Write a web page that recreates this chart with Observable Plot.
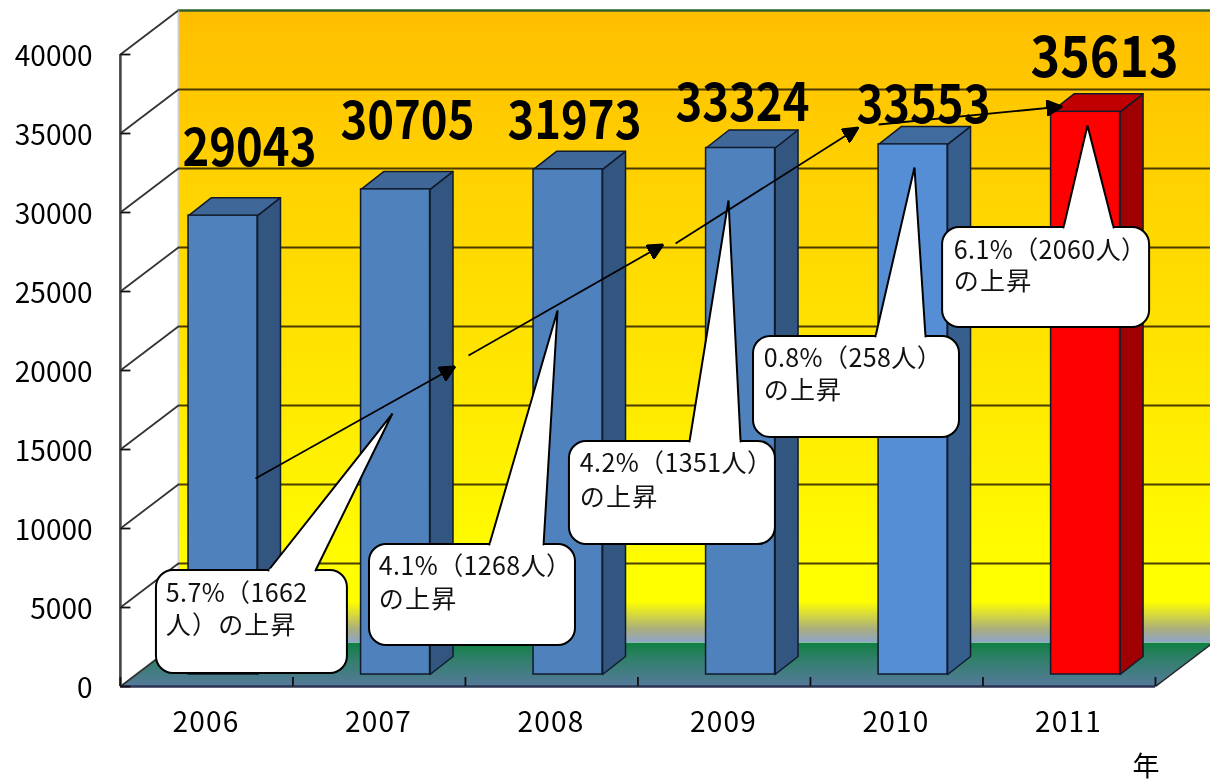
<!DOCTYPE html>
<html lang="ja">
<head>
<meta charset="utf-8">
<script src="https://cdn.jsdelivr.net/npm/d3@7"></script>
<script src="https://cdn.jsdelivr.net/npm/@observablehq/plot@0.6"></script>
<style>
html,body{margin:0;padding:0;background:#fff;overflow:hidden}
svg{display:block;filter:blur(0.45px)}
</style>
</head>
<body>
<div id="chart"></div>
<script>
// Chart values
const years = [2006, 2007, 2008, 2009, 2010, 2011];
const values = [29043, 30705, 31973, 33324, 33553, 35613];
const yTicks = [0, 5000, 10000, 15000, 20000, 25000, 30000, 35000, 40000];
const frontColors = ["#4f81bd", "#4f81bd", "#4f81bd", "#4f81bd", "#558ed5", "#ff0000"];
const sideColors = ["#335680", "#335680", "#335680", "#335680", "#375f8e", "#a00000"];
const topColors = ["#3f6797", "#3f6797", "#3f6797", "#3f6797", "#3f6b9e", "#c00000"];

// Annotation anchors, in chart units (year, people)
const labelX = [2006.252, 2007.168, 2008.136, 2009.11, 2010.159, 2011.209];
const labelY = [34114, 35823, 35823, 36962, 36835, 39873];
const arrowFromX = [2006.287, 2007.522, 2008.722, 2009.899];
const arrowFromY = [13165, 20949, 28038, 35570];
const arrowToX = [2007.446, 2008.652, 2009.783, 2010.965];
const arrowToY = [20253, 27975, 35380, 36709];

const boxLeft = [2005.713, 2006.948, 2008.107, 2009.174, 2010.27];
const boxRight = [2006.82, 2008.142, 2009.301, 2010.368, 2011.47];
const boxTop = [7342, 8987, 15506, 22152, 29051];
const boxBottom = [823, 2595, 8987, 15759, 22722];
const tailBaseLeft = [2006.362, 2007.643, 2008.803, 2009.881, 2010.971];
const tailBaseRight = [2006.635, 2007.957, 2009.099, 2010.171, 2011.261];
const tailTipX = [2007.081, 2008.038, 2009.029, 2010.107, 2011.11];
const tailTipY = [17278, 23797, 30759, 32848, 35506];
const noteLine1 = ["5.7%（1662", "4.1%（1268人）", "4.2%（1351人）", "0.8%（258人）", "6.1%（2060人）"];
const noteLine2 = ["人）の上昇", "の上昇", "の上昇", "の上昇", "の上昇"];
const noteX = [2005.767, 2007.002, 2008.167, 2009.233, 2010.335];
const noteY1 = [5886, 7532, 14051, 20759, 27595];
const noteY2 = [3861, 5506, 11962, 18734, 25633];

// 3-D projection, in chart units
const xDomain = [2004.809, 2011.823];
const yDomain = [-5949, 43418];
const wallDX = 0.336, wallDY = 2785;
const floorLeft = 2005.504, floorRight = 2011.504;
const barLeft = -0.101, barRight = 0.299, barLift = 759;
const depthDX = 0.133, depthDY = 1139;
const edge = "#101a2c";
const textFont = '"Noto Sans CJK JP", sans-serif';

const X = d => d[0], Y = d => d[1];
const poly = (pts, o) => Plot.line(pts, {x: X, y: Y, curve: "linear", ...o});
const spaced = (px) => (index, scales, values, dimensions, context, next) => {
  const g = next(index, scales, values, dimensions, context);
  g.setAttribute("letter-spacing", px);
  return g;
};
const fitted = (len) => (index, scales, values, dimensions, context, next) => {
  const g = next(index, scales, values, dimensions, context);
  g.querySelectorAll("text").forEach(t => {
    t.setAttribute("textLength", len);
    t.setAttribute("lengthAdjust", "spacingAndGlyphs");
  });
  return g;
};

const marks = [];

// gradient definitions
marks.push(() => {
  const defs = d3.create("svg:defs");
  const g = (id, stops) => {
    const lg = defs.append("linearGradient").attr("id", id).attr("x1", 0).attr("y1", 0).attr("x2", 0).attr("y2", 1);
    stops.forEach(([o, c]) => lg.append("stop").attr("offset", o).attr("stop-color", c));
  };
  g("wall", [[0, "#ffbe00"], [0.3, "#ffd400"], [0.6, "#ffe800"], [0.9, "#ffff00"], [0.936, "#ffff00"], [0.98, "#a8ad80"], [1, "#8fa5c8"]]);
  g("floor", [[0, "#0e7f41"], [0.35, "#2f7f68"], [1, "#567a9c"]]);
  return defs.node();
});

// back wall
marks.push(Plot.rect([0], {
  x1: () => floorLeft + wallDX, x2: () => xDomain[1] + 1,
  y1: () => wallDY, y2: () => 40000 + wallDY, fill: "url(#wall)"
}));
marks.push(Plot.ruleY([40000 + wallDY], {stroke: "#2f5f2a", strokeWidth: 2.5, x1: floorLeft + wallDX, x2: xDomain[1]}));
marks.push(Plot.ruleX([floorLeft + wallDX], {y1: wallDY, y2: 40000 + wallDY, stroke: "#cfcfcf", strokeWidth: 1.5}));

// floor
marks.push(poly([
  [floorLeft, 0], [floorLeft + wallDX, wallDY], [floorRight + wallDX, wallDY], [floorRight, 0], [floorLeft, 0]
], {fill: "url(#floor)", stroke: "none"}));
marks.push(Plot.link([[floorRight, 0, floorRight + wallDX, wallDY]], {
  x1: d => d[0], y1: d => d[1], x2: d => d[2], y2: d => d[3], stroke: "#222", strokeWidth: 1.5
}));

// gridlines on the wall and the side wall
const gridTicks = yTicks.filter(v => v > 0 && v < 40000);
marks.push(Plot.ruleY(gridTicks.map(v => v + wallDY), {
  x1: floorLeft + wallDX, x2: xDomain[1], stroke: "#2a2000", strokeWidth: 2.2, strokeOpacity: 0.85
}));
marks.push(Plot.link(yTicks, {
  x1: () => floorLeft, y1: d => d, x2: () => floorLeft + wallDX, y2: d => d + wallDY,
  stroke: "#333", strokeWidth: 1.8
}));

// axis lines and tick marks
marks.push(Plot.ruleX([floorLeft], {y1: 0, y2: 40000, stroke: "#444", strokeWidth: 2.6}));
marks.push(Plot.ruleY([0], {x1: floorLeft, x2: floorRight, stroke: "#2b3550", strokeWidth: 2.4}));
marks.push(Plot.link(yTicks, {
  x1: () => floorLeft, y1: d => d, x2: () => floorLeft + 0.058, y2: d => d, stroke: "#111", strokeWidth: 1.8
}));
marks.push(Plot.ruleX(d3.range(0, 7).map(i => floorLeft + i), {y1: 0, y2: 570, stroke: "#111", strokeWidth: 1.8}));

// bars
years.forEach((yr, i) => {
  const v = values[i], l = yr + barLeft, r = yr + barRight;
  const b = barLift, t = v + barLift;
  marks.push(poly([[r, b], [r + depthDX, b + depthDY], [r + depthDX, t + depthDY], [r, t], [r, b]],
    {fill: sideColors[i], stroke: edge, strokeWidth: 1.5, strokeLinejoin: "round"}));
  marks.push(poly([[l, t], [l + depthDX, t + depthDY], [r + depthDX, t + depthDY], [r, t], [l, t]],
    {fill: topColors[i], stroke: edge, strokeWidth: 1.5, strokeLinejoin: "round"}));
  marks.push(Plot.rect([0], {x1: () => l, x2: () => r, y1: () => b, y2: () => t,
    fill: frontColors[i], stroke: edge, strokeWidth: 1.5}));
});

// axes
marks.push(Plot.axisY({ticks: yTicks, tickSize: 0, tickPadding: 0, dx: 92, dy: 3, label: null,
  tickFormat: d => String(d), fontSize: 28, fontFamily: textFont}));
marks.push(Plot.axisX({ticks: years, tickSize: 0, tickPadding: 0, dy: -68, label: null,
  tickFormat: d => String(d), fontSize: 28, fontFamily: textFont, render: spaced(1.2)}));
marks.push(Plot.text(["年"], {x: () => 2011.449, y: () => -5100, text: d => d,
  fontSize: 27, fontFamily: textFont, fill: "#000"}));

// value labels
marks.push(Plot.text(values.slice(0, 5), {
  x: (d, i) => labelX[i], y: (d, i) => labelY[i], text: d => String(d), dy: 2,
  fontSize: 52, fontWeight: 700, fontFamily: textFont, fill: "#000", render: fitted(134)
}));
marks.push(Plot.text(values.slice(5), {
  x: () => labelX[5], y: () => labelY[5], text: d => String(d), dy: 3,
  fontSize: 55, fontWeight: 700, fontFamily: textFont, fill: "#000", render: fitted(148)
}));

// callouts
boxLeft.forEach((_, i) => {
  marks.push(Plot.rect([0], {x1: () => boxLeft[i], x2: () => boxRight[i], y1: () => boxBottom[i], y2: () => boxTop[i],
    fill: "#fff", stroke: "#000", strokeWidth: 2, rx: 17}));
  marks.push(poly([[tailBaseLeft[i], boxTop[i]], [tailTipX[i], tailTipY[i]], [tailBaseRight[i], boxTop[i]]],
    {fill: "#fff", stroke: "#000", strokeWidth: 2, strokeLinejoin: "miter"}));
  marks.push(Plot.link([0], {x1: () => tailBaseLeft[i] + 0.007, x2: () => tailBaseRight[i] - 0.007,
    y1: () => boxTop[i], y2: () => boxTop[i], stroke: "#fff", strokeWidth: 3.5}));
});
const noteStyle = {textAnchor: "start", fontSize: 25, fontFamily: textFont, fill: "#111"};
marks.push(Plot.text(noteLine1, {x: (d, i) => noteX[i], y: (d, i) => noteY1[i], text: d => d, ...noteStyle, render: spaced(0.4)}));
marks.push(Plot.text(noteLine2, {x: (d, i) => noteX[i], y: (d, i) => noteY2[i], text: d => d, ...noteStyle, render: spaced(1.2)}));

// arrows
const solidHead = (color) => {
  const m = d3.create("svg:marker")
    .attr("viewBox", "-16 -8 16 16").attr("markerWidth", 16).attr("markerHeight", 16)
    .attr("markerUnits", "userSpaceOnUse").attr("orient", "auto").attr("fill", color);
  m.append("path").attr("d", "M-16,-8L0,0L-16,8Z");
  return m.node();
};
marks.push(Plot.link(arrowFromX, {
  x1: (d, i) => arrowFromX[i], y1: (d, i) => arrowFromY[i],
  x2: (d, i) => arrowToX[i], y2: (d, i) => arrowToY[i],
  stroke: "#000", strokeWidth: 1.8, markerEnd: solidHead
}));

const chart = Plot.plot({
  width: 1210, height: 780,
  marginTop: 0, marginRight: 0, marginBottom: 0, marginLeft: 0,
  x: {domain: xDomain, range: [0, 1210]},
  y: {domain: yDomain, range: [780, 0]},
  style: {background: "#fff", color: "#000", overflow: "hidden"},
  marks
});
document.getElementById("chart").append(chart);
</script>
</body>
</html>
